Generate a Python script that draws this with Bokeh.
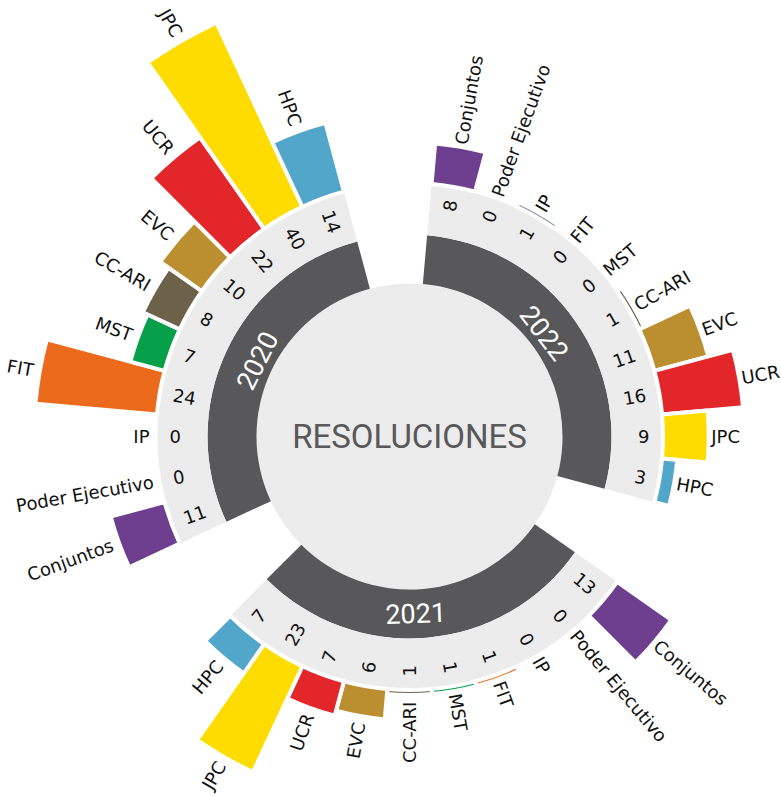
import math
from bokeh.plotting import figure
from bokeh.models import ColumnDataSource, Range1d
from bokeh.embed import file_html
from bokeh.resources import INLINE
from bokeh.core.properties import value

# ---------------- data ----------------
categories = ["Conjuntos", "Poder Ejecutivo", "IP", "FIT", "MST",
              "CC-ARI", "EVC", "UCR", "JPC", "HPC"]
years = ["2022", "2021", "2020"]
values_2022 = [8, 0, 1, 0, 0, 1, 11, 16, 9, 3]
values_2021 = [13, 0, 0, 1, 1, 1, 6, 7, 23, 7]
values_2020 = [11, 0, 0, 24, 7, 8, 10, 22, 40, 14]
category_colors = ["#6e3f8e", "#555555", "#8d95a8", "#ec6a1c", "#06a04b",
                   "#6c6149", "#bb8f30", "#e2262a", "#fedc00", "#52a6c9"]
center_title = "RESOLUCIONES"

values_by_year = {"2022": values_2022, "2021": values_2021, "2020": values_2020}

# ---------------- layout ----------------
W, H = 781, 796
CX, CY = 409, H - 436
group_start = {"2022": 5, "2021": 125, "2020": 245}   # degrees clockwise from north
STEP = 10
SPAN = STEP * len(categories)
R_CIRCLE = 153
R_DARK = (153, 202)
R_LIGHT = (202, 252)
R_BAR = 253.5
SCALE = 5.08
R_NUM = 240
LABEL_PAD = {"R": 2.5, "L": 6.5}
year_pos = {"2022": (52.5, 170.5), "2021": (178.0, 176.5), "2020": (296.5, 170.5)}

DARK = "#58585a"
LIGHT = "#ececec"
FONT = value("DejaVu Sans")


def pol(r, theta):
    t = math.radians(theta)
    return CX + r * math.sin(t), CY + r * math.cos(t)


def wedge_angles(t1, t2):
    return math.radians(90 - t2), math.radians(90 - t1)


p = figure(width=W, height=H, output_backend="svg", toolbar_location=None,
           x_range=Range1d(0, W), y_range=Range1d(0, H),
           x_axis_type=None, y_axis_type=None, min_border=0,
           outline_line_color=None, background_fill_color="white")
p.grid.visible = False

# inner circle
p.circle(x=[CX], y=[CY], radius=R_CIRCLE, fill_color=LIGHT, line_color=None)

# rings per group
ring = dict(x=[], y=[], s=[], e=[])
for yr in years:
    s, e = wedge_angles(group_start[yr], group_start[yr] + SPAN)
    ring["x"].append(CX); ring["y"].append(CY); ring["s"].append(s); ring["e"].append(e)
rsrc = ColumnDataSource(ring)
p.annular_wedge(x="x", y="y", inner_radius=R_DARK[0], outer_radius=R_DARK[1],
                start_angle="s", end_angle="e", fill_color=DARK, line_color=None, source=rsrc)
p.annular_wedge(x="x", y="y", inner_radius=R_LIGHT[0], outer_radius=R_LIGHT[1],
                start_angle="s", end_angle="e", fill_color=LIGHT, line_color=None, source=rsrc)

# bars
bars = dict(x=[], y=[], ri=[], ro=[], s=[], e=[], c=[])
nums = {"R": dict(x=[], y=[], t=[], a=[]), "L": dict(x=[], y=[], t=[], a=[])}
labs = {"R": dict(x=[], y=[], t=[], a=[]), "L": dict(x=[], y=[], t=[], a=[])}
for yr in years:
    vals = values_by_year[yr]
    for i, (cat, v, col) in enumerate(zip(categories, vals, category_colors)):
        t1 = group_start[yr] + STEP * i
        t2 = t1 + STEP
        tc = (t1 + t2) / 2
        if v > 0:
            s, e = wedge_angles(t1, t2)
            bars["x"].append(CX); bars["y"].append(CY)
            bars["ri"].append(R_BAR); bars["ro"].append(R_BAR + SCALE * v)
            bars["s"].append(s); bars["e"].append(e); bars["c"].append(col)
        side = "R" if tc < 179.999 else "L"
        ang = math.radians(90 - tc) if side == "R" else math.radians(270 - tc)
        nx, ny = pol(R_NUM, tc)
        nums[side]["x"].append(nx); nums[side]["y"].append(ny)
        nums[side]["t"].append(str(v)); nums[side]["a"].append(ang)
        lx, ly = pol(R_BAR + SCALE * v + LABEL_PAD[side], tc)
        labs[side]["x"].append(lx); labs[side]["y"].append(ly)
        labs[side]["t"].append(cat); labs[side]["a"].append(ang)

p.annular_wedge(x="x", y="y", inner_radius="ri", outer_radius="ro",
                start_angle="s", end_angle="e", fill_color="c",
                line_color="white", line_width=4, source=ColumnDataSource(bars))

for side in ("R", "L"):
    p.text(x="x", y="y", text="t", angle="a", source=ColumnDataSource(nums[side]),
           text_font=FONT, text_font_size="18px", text_color="#111111",
           text_align="right" if side == "R" else "left", text_baseline="middle")
    p.text(x="x", y="y", text="t", angle="a", source=ColumnDataSource(labs[side]),
           text_font=FONT, text_font_size="18px", text_color="#111111",
           text_align="left" if side == "R" else "right", text_baseline="middle")

# year labels
yl = dict(x=[], y=[], t=[], a=[])
for yr in years:
    th, r = year_pos[yr]
    x, y = pol(r, th)
    ang = -th if not (90 < th < 270) else 180 - th
    yl["x"].append(x); yl["y"].append(y); yl["t"].append(yr); yl["a"].append(math.radians(ang))
p.text(x="x", y="y", text="t", angle="a", source=ColumnDataSource(yl),
       text_font=value("Roboto"), text_font_size="27px", text_color="white",
       text_align="center", text_baseline="middle")

# center title
p.text(x=[CX], y=[CY], text=[center_title], text_font=value("Roboto"),
       text_font_size="33px", text_color=DARK, text_align="center", text_baseline="middle")

open("out.html", "w").write(file_html(p, INLINE))
